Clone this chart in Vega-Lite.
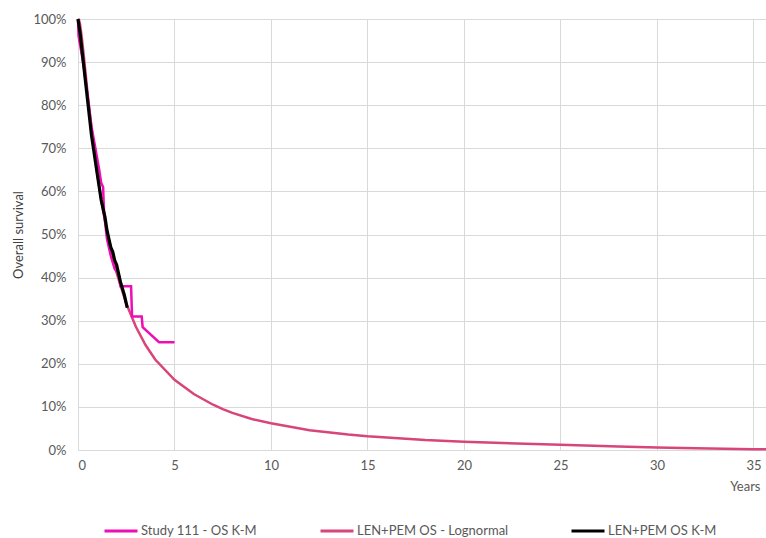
{
  "$schema": "https://vega.github.io/schema/vega-lite/v6.json",
  "autosize": "none",
  "width": 688,
  "height": 431,
  "padding": {"left": 78, "top": 19, "right": 0, "bottom": 88},
  "background": "white",
  "config": {
    "font": "Lato",
    "view": {"stroke": null},
    "axis": {"labelFont": "Lato", "titleFont": "Lato", "labelColor": "#595959", "titleColor": "#404040", "labelFontSize": 13, "titleFontSize": 13, "titleFontWeight": "normal", "gridColor": "#D9D9D9", "gridWidth": 1, "tickSize": 0, "domain": false}
  },
  "datasets": {
    "curves": [
      {"series": "LEN+PEM OS - Lognormal", "t": 0, "s": 1.0},
      {"series": "LEN+PEM OS - Lognormal", "t": 0.05, "s": 0.998},
      {"series": "LEN+PEM OS - Lognormal", "t": 0.1, "s": 0.989},
      {"series": "LEN+PEM OS - Lognormal", "t": 0.2, "s": 0.956},
      {"series": "LEN+PEM OS - Lognormal", "t": 0.3, "s": 0.915},
      {"series": "LEN+PEM OS - Lognormal", "t": 0.5, "s": 0.826},
      {"series": "LEN+PEM OS - Lognormal", "t": 0.75, "s": 0.726},
      {"series": "LEN+PEM OS - Lognormal", "t": 1, "s": 0.640},
      {"series": "LEN+PEM OS - Lognormal", "t": 1.25, "s": 0.568},
      {"series": "LEN+PEM OS - Lognormal", "t": 1.5, "s": 0.507},
      {"series": "LEN+PEM OS - Lognormal", "t": 2, "s": 0.411},
      {"series": "LEN+PEM OS - Lognormal", "t": 2.5, "s": 0.340},
      {"series": "LEN+PEM OS - Lognormal", "t": 3, "s": 0.286},
      {"series": "LEN+PEM OS - Lognormal", "t": 3.5, "s": 0.2435},
      {"series": "LEN+PEM OS - Lognormal", "t": 4, "s": 0.21},
      {"series": "LEN+PEM OS - Lognormal", "t": 5, "s": 0.163},
      {"series": "LEN+PEM OS - Lognormal", "t": 6, "s": 0.13},
      {"series": "LEN+PEM OS - Lognormal", "t": 7, "s": 0.105},
      {"series": "LEN+PEM OS - Lognormal", "t": 7.5, "s": 0.095},
      {"series": "LEN+PEM OS - Lognormal", "t": 8, "s": 0.086},
      {"series": "LEN+PEM OS - Lognormal", "t": 9, "s": 0.072},
      {"series": "LEN+PEM OS - Lognormal", "t": 10, "s": 0.062},
      {"series": "LEN+PEM OS - Lognormal", "t": 12, "s": 0.046},
      {"series": "LEN+PEM OS - Lognormal", "t": 14, "s": 0.036},
      {"series": "LEN+PEM OS - Lognormal", "t": 15, "s": 0.032},
      {"series": "LEN+PEM OS - Lognormal", "t": 16, "s": 0.029},
      {"series": "LEN+PEM OS - Lognormal", "t": 18, "s": 0.023},
      {"series": "LEN+PEM OS - Lognormal", "t": 20, "s": 0.019},
      {"series": "LEN+PEM OS - Lognormal", "t": 22, "s": 0.016},
      {"series": "LEN+PEM OS - Lognormal", "t": 25, "s": 0.012},
      {"series": "LEN+PEM OS - Lognormal", "t": 28, "s": 0.008},
      {"series": "LEN+PEM OS - Lognormal", "t": 30, "s": 0.006},
      {"series": "LEN+PEM OS - Lognormal", "t": 32, "s": 0.004},
      {"series": "LEN+PEM OS - Lognormal", "t": 35, "s": 0.002},
      {"series": "LEN+PEM OS - Lognormal", "t": 35.65, "s": 0.0018},
      {"series": "Study 111 - OS K-M", "t": 0, "s": 1.0},
      {"series": "Study 111 - OS K-M", "t": 0.03, "s": 0.96},
      {"series": "Study 111 - OS K-M", "t": 0.3, "s": 0.89},
      {"series": "Study 111 - OS K-M", "t": 0.5, "s": 0.82},
      {"series": "Study 111 - OS K-M", "t": 0.7, "s": 0.75},
      {"series": "Study 111 - OS K-M", "t": 0.9, "s": 0.70},
      {"series": "Study 111 - OS K-M", "t": 1.1, "s": 0.65},
      {"series": "Study 111 - OS K-M", "t": 1.2, "s": 0.62},
      {"series": "Study 111 - OS K-M", "t": 1.3, "s": 0.61},
      {"series": "Study 111 - OS K-M", "t": 1.35, "s": 0.55},
      {"series": "Study 111 - OS K-M", "t": 1.5, "s": 0.49},
      {"series": "Study 111 - OS K-M", "t": 1.7, "s": 0.45},
      {"series": "Study 111 - OS K-M", "t": 1.9, "s": 0.42},
      {"series": "Study 111 - OS K-M", "t": 2.1, "s": 0.41},
      {"series": "Study 111 - OS K-M", "t": 2.2, "s": 0.38},
      {"series": "Study 111 - OS K-M", "t": 2.75, "s": 0.38},
      {"series": "Study 111 - OS K-M", "t": 2.8, "s": 0.31},
      {"series": "Study 111 - OS K-M", "t": 3.3, "s": 0.31},
      {"series": "Study 111 - OS K-M", "t": 3.35, "s": 0.285},
      {"series": "Study 111 - OS K-M", "t": 4.2, "s": 0.25},
      {"series": "Study 111 - OS K-M", "t": 5.0, "s": 0.25},
      {"series": "LEN+PEM OS K-M", "t": 0, "s": 1.0},
      {"series": "LEN+PEM OS K-M", "t": 0.1, "s": 0.97},
      {"series": "LEN+PEM OS K-M", "t": 0.2, "s": 0.93},
      {"series": "LEN+PEM OS K-M", "t": 0.3, "s": 0.89},
      {"series": "LEN+PEM OS K-M", "t": 0.4, "s": 0.85},
      {"series": "LEN+PEM OS K-M", "t": 0.5, "s": 0.81},
      {"series": "LEN+PEM OS K-M", "t": 0.6, "s": 0.77},
      {"series": "LEN+PEM OS K-M", "t": 0.7, "s": 0.73},
      {"series": "LEN+PEM OS K-M", "t": 0.8, "s": 0.70},
      {"series": "LEN+PEM OS K-M", "t": 0.9, "s": 0.67},
      {"series": "LEN+PEM OS K-M", "t": 1.0, "s": 0.64},
      {"series": "LEN+PEM OS K-M", "t": 1.1, "s": 0.61},
      {"series": "LEN+PEM OS K-M", "t": 1.2, "s": 0.58},
      {"series": "LEN+PEM OS K-M", "t": 1.3, "s": 0.56},
      {"series": "LEN+PEM OS K-M", "t": 1.4, "s": 0.54},
      {"series": "LEN+PEM OS K-M", "t": 1.5, "s": 0.51},
      {"series": "LEN+PEM OS K-M", "t": 1.6, "s": 0.49},
      {"series": "LEN+PEM OS K-M", "t": 1.7, "s": 0.47},
      {"series": "LEN+PEM OS K-M", "t": 1.8, "s": 0.46},
      {"series": "LEN+PEM OS K-M", "t": 1.9, "s": 0.44},
      {"series": "LEN+PEM OS K-M", "t": 2.0, "s": 0.43},
      {"series": "LEN+PEM OS K-M", "t": 2.1, "s": 0.41},
      {"series": "LEN+PEM OS K-M", "t": 2.2, "s": 0.39},
      {"series": "LEN+PEM OS K-M", "t": 2.3, "s": 0.375},
      {"series": "LEN+PEM OS K-M", "t": 2.4, "s": 0.36},
      {"series": "LEN+PEM OS K-M", "t": 2.5, "s": 0.34},
      {"series": "LEN+PEM OS K-M", "t": 2.55, "s": 0.33}
    ]
  },
  "data": {"name": "curves"},
  "encoding": {
    "x": {"field": "t", "type": "quantitative", "scale": {"domain": [0, 35.65], "nice": false, "zero": true},
      "axis": {"values": [0, 5, 10, 15, 20, 25, 30, 35], "title": "Years", "titleX": 682, "titleY": 36, "titleAlign": "right", "titleBaseline": "middle", "titleAnchor": null, "labelPadding": 9, "titleColor": "#595959", "grid": true}},
    "y": {"field": "s", "type": "quantitative", "scale": {"domain": [0, 1], "nice": false},
      "axis": {"format": ".0%", "values": [0, 0.1, 0.2, 0.3, 0.4, 0.5, 0.6, 0.7, 0.8, 0.9, 1.0], "title": "Overall survival", "labelPadding": 12, "titlePadding": 7, "grid": true}},
    "color": {"field": "series", "type": "nominal",
      "scale": {"domain": ["Study 111 - OS K-M", "LEN+PEM OS - Lognormal", "LEN+PEM OS K-M"], "range": ["#EE0FB4", "#D8457A", "#000000"]},
      "legend": {"title": null, "orient": "none", "direction": "horizontal", "legendX": 25, "legendY": 494, "symbolType": "stroke", "symbolSize": 1089, "symbolStrokeWidth": 3, "labelFont": "Lato", "labelFontSize": 13, "labelColor": "#595959", "columnPadding": 56, "labelOffset": 2, "symbolOffset": 0}
    }
  },
  "layer": [
    {"transform": [{"filter": "datum.series === 'LEN+PEM OS - Lognormal'"}], "mark": {"type": "line", "strokeWidth": 2.5}},
    {"transform": [{"filter": "datum.series === 'Study 111 - OS K-M'"}], "mark": {"type": "line", "strokeWidth": 2.5}},
    {"transform": [{"filter": "datum.series === 'LEN+PEM OS K-M'"}], "mark": {"type": "line", "strokeWidth": 3.2}}
  ]
}
